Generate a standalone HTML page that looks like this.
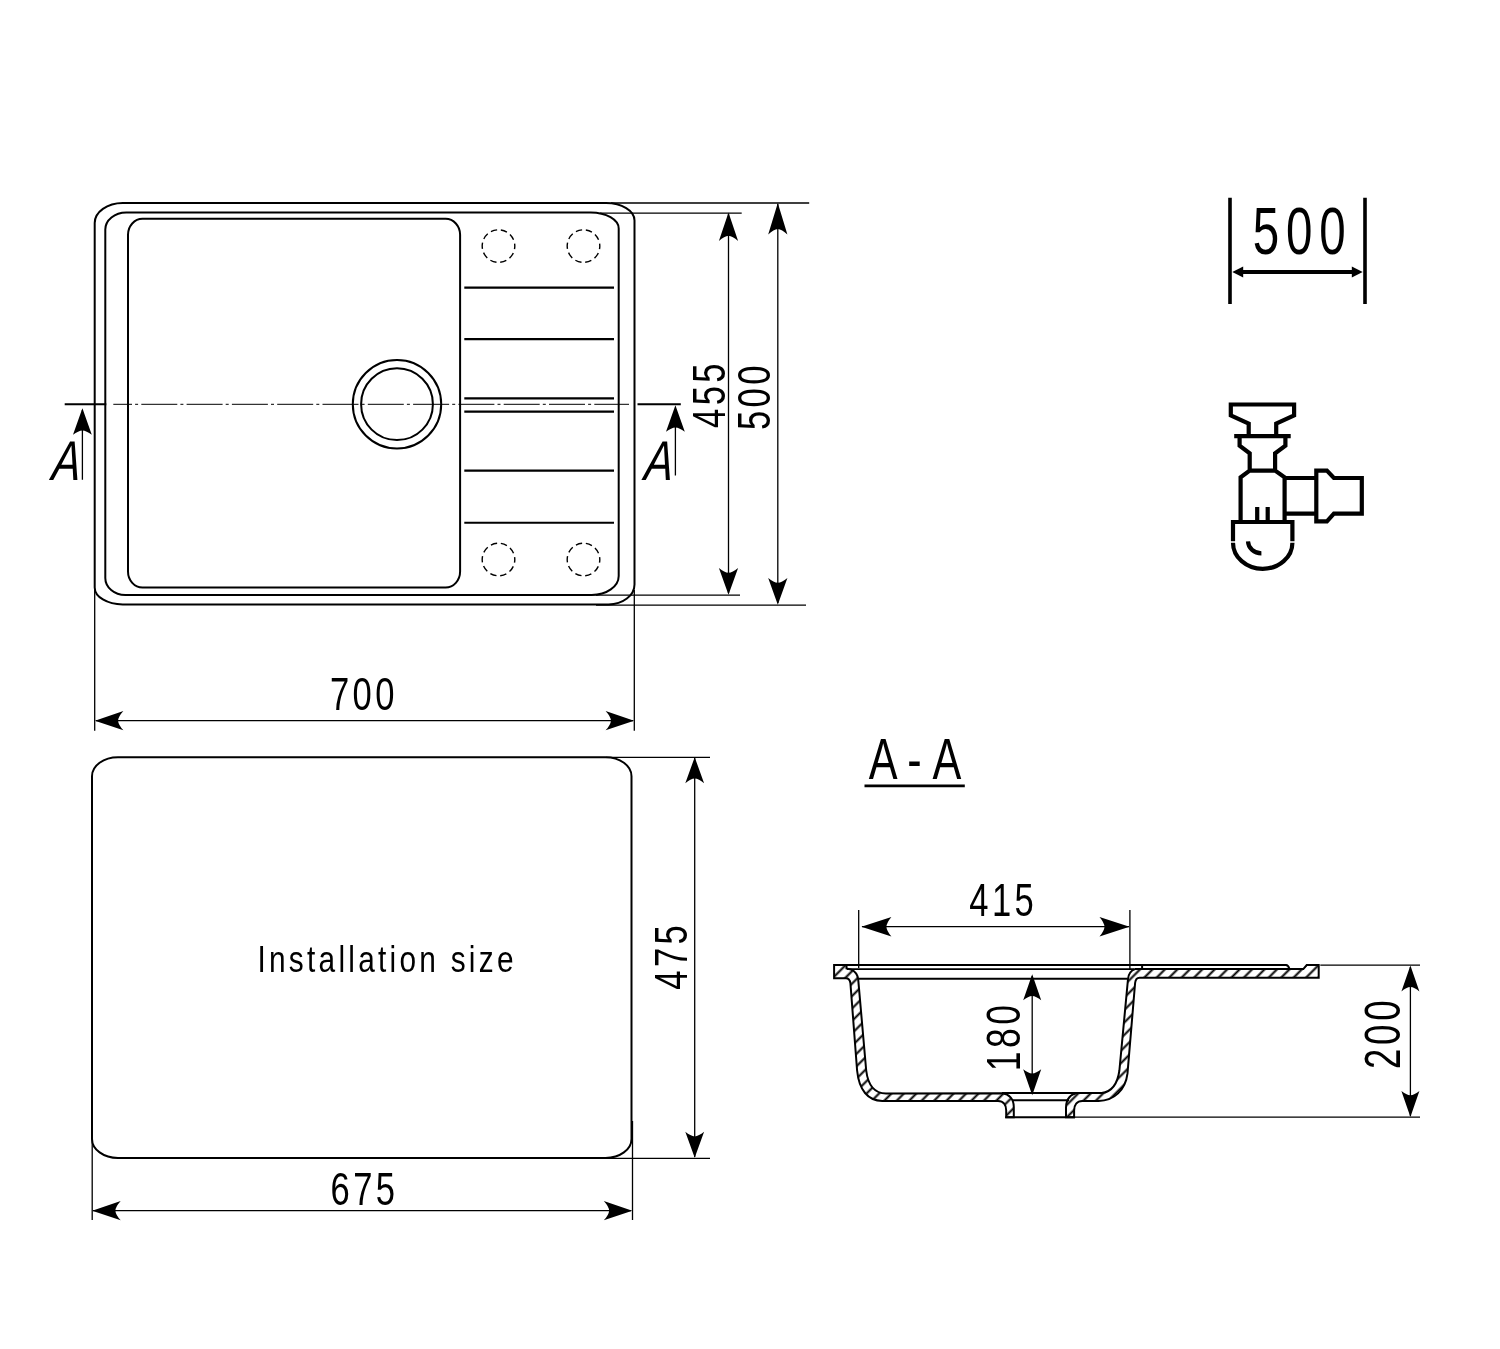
<!DOCTYPE html>
<html lang="en">
<head>
<meta charset="utf-8">
<title>Sink technical drawing</title>
<style>
html,body{margin:0;padding:0;background:#fff;}
body{width:1500px;height:1349px;overflow:hidden;}
svg{display:block;will-change:transform;}
text{font-family:"Liberation Sans",sans-serif;fill:#000;}
.k{stroke:#000;stroke-width:2;fill:none;}
.t{stroke:#000;stroke-width:1.3;fill:none;}
.ah{fill:#000;stroke:none;}
</style>
</head>
<body>
<svg width="1500" height="1349" viewBox="0 0 1500 1349">
<rect x="0" y="0" width="1500" height="1349" fill="#fff"/>

<!-- ===== TOP VIEW ===== -->
<g id="topview">
  <path class="k" d="M122.7 203.0H606.1A28.4 17.4 0 0 1 634.5 220.4V584.4A26.0 20.0 0 0 1 608.5 604.4H122.7A28.0 17.0 0 0 1 94.7 587.4V223.0A28.0 20.0 0 0 1 122.7 203.0Z"/>
  <path class="k" d="M126.3 212.5H590.7A28.0 16.0 0 0 1 618.7 228.5V576.0A27.0 19.0 0 0 1 591.7 595.0H125.3A20.0 17.0 0 0 1 105.3 578.0V229.5A21.0 17.0 0 0 1 126.3 212.5Z"/>
  <rect class="k" x="128" y="218.8" width="332.1" height="368.7" rx="14.5" ry="16"/>
  <circle class="k" cx="397" cy="404.2" r="44.2"/>
  <circle class="k" cx="397" cy="404.2" r="35.9"/>
  <!-- grooves -->
  <path class="k" style="stroke-width:2.1" d="M464.3 287.6H614M464.3 339.1H614M464.3 398.4H614M464.3 411.6H614M464.3 470.6H614M464.3 522.8H614"/>
  <!-- dashed tap holes -->
  <g class="t" style="stroke-width:1.4" stroke-dasharray="6.4 3.84" stroke-dashoffset="3.2">
    <circle cx="498.5" cy="246.1" r="16.3"/>
    <circle cx="583.5" cy="246.1" r="16.3"/>
    <circle cx="498.5" cy="559.5" r="16.3"/>
    <circle cx="583.5" cy="559.5" r="16.3"/>
  </g>
  <!-- centre line -->
  <path class="t" style="stroke-width:1" d="M113.3 404.3H629" stroke-dasharray="36 3.1 3 3.2" stroke-dashoffset="17.3"/>
  <path class="k" style="stroke-width:1.9" d="M64.7 404.3H106.3M637.5 404.3H680.8"/>
</g>

<!-- ===== TOP VIEW DIMENSIONS ===== -->
<g id="topdims">
  <!-- extension lines -->
  <path class="t" d="M611 203H809.2M600 213.2H741.7M596 595.2H740M596 605.2H806"/>
  <path class="t" d="M94.7 590V730.7M634.3 590V730.7"/>
  <!-- 455 -->
  <path class="t" d="M728.5 214V593"/>
  <path class="ah" d="M0 0L9.6 28.5Q4 23.4 0 23.2Q-4 23.4 -9.6 28.5Z" transform="translate(728.5 212.6)"/>
  <path class="ah" d="M0 0L9.6 26.8Q4 22.2 0 22Q-4 22.2 -9.6 26.8Z" transform="translate(728.5 594.8) rotate(180)"/>
  <!-- 500 -->
  <path class="t" d="M777.8 204V603"/>
  <path class="ah" d="M0 0L9.6 31.5Q4 26.2 0 26Q-4 26.2 -9.6 31.5Z" transform="translate(777.8 203)"/>
  <path class="ah" d="M0 0L9.6 26.8Q4 22.2 0 22Q-4 22.2 -9.6 26.8Z" transform="translate(777.8 604.8) rotate(180)"/>
  <!-- 700 -->
  <path class="t" d="M96 720.7H633"/>
  <path class="ah" d="M0 0L9.6 28.5Q4 23.4 0 23.2Q-4 23.4 -9.6 28.5Z" transform="translate(94.9 720.7) rotate(-90)"/>
  <path class="ah" d="M0 0L9.6 28.5Q4 23.4 0 23.2Q-4 23.4 -9.6 28.5Z" transform="translate(634.1 720.7) rotate(90)"/>
  <text font-size="45.5" letter-spacing="4.5" text-anchor="middle" transform="translate(363.9 710) scale(0.76 1)">700</text>
  <text font-size="45.5" letter-spacing="4.5" text-anchor="middle" transform="translate(725 394)  rotate(-90) scale(0.76 1)">455</text>
  <text font-size="45.5" letter-spacing="4.5" text-anchor="middle" transform="translate(769.5 396.1) rotate(-90) scale(0.76 1)">500</text>
  <!-- section markers -->
  <path class="t" d="M82.4 410V479.7M675.4 410V475.6"/>
  <path class="ah" d="M0 0L9.4 26.6Q4 22.4 0 22.2Q-4 22.4 -9.4 26.6Z" transform="translate(82.4 408.2)"/>
  <path class="ah" d="M0 0L9.4 26.6Q4 22.4 0 22.2Q-4 22.4 -9.4 26.6Z" transform="translate(675.4 405.2)"/>
  <text font-size="56" font-style="italic" text-anchor="middle" transform="translate(65.3 480.2) skewX(-5) scale(0.77 1)">A</text>
  <text font-size="56" font-style="italic" text-anchor="middle" transform="translate(658 479.9) skewX(-5) scale(0.77 1)">A</text>
</g>

<!-- ===== INSTALLATION VIEW ===== -->
<g id="install">
  <rect class="k" x="92" y="757.2" width="539.5" height="400.7" rx="26" ry="19"/>
  <path class="t" d="M606 757.3H710M606 1158.3H710M92.2 1130V1220M632.5 1121V1220"/>
  <path class="t" d="M694.7 758V1157"/>
  <path class="ah" d="M0 0L9.4 26Q4 21.6 0 21.4Q-4 21.6 -9.4 26Z" transform="translate(694.7 757.2)"/>
  <path class="ah" d="M0 0L9.4 26Q4 21.6 0 21.4Q-4 21.6 -9.4 26Z" transform="translate(694.7 1157.8) rotate(180)"/>
  <path class="t" d="M93 1210.7H631"/>
  <path class="ah" d="M0 0L9.6 28.5Q4 23.4 0 23.2Q-4 23.4 -9.6 28.5Z" transform="translate(92.2 1210.7) rotate(-90)"/>
  <path class="ah" d="M0 0L9.6 28.5Q4 23.4 0 23.2Q-4 23.4 -9.6 28.5Z" transform="translate(632.3 1210.7) rotate(90)"/>
  <text font-size="45.5" letter-spacing="4.5" text-anchor="middle" transform="translate(364.5 1205.4) scale(0.76 1)">675</text>
  <text font-size="45.5" letter-spacing="4.5" text-anchor="middle" transform="translate(686.7 955.8) rotate(-90) scale(0.76 1)">475</text>
  <text font-size="37.3" text-anchor="middle" transform="translate(387.1 971.7) scale(0.8 1)" letter-spacing="4.07">Installation size</text>
</g>

<!-- ===== CABINET WIDTH 500 + SIPHON ===== -->
<g id="cabinet">
  <path d="M1230 197.7V304M1365 197.7V304" stroke="#000" stroke-width="3.6" fill="none"/>
  <path d="M1240 272H1355" stroke="#000" stroke-width="4" fill="none"/>
  <path class="ah" d="M1232.3 272L1243.2 266.5V277.5Z"/>
  <path class="ah" d="M1362.7 272L1351.8 266.5V277.5Z"/>
  <text font-size="66.5" letter-spacing="9.6" text-anchor="middle" transform="translate(1302.6 253.7) scale(0.715 1)">500</text>
  <g stroke="#000" stroke-width="4.2" fill="none" stroke-linejoin="miter" stroke-linecap="butt">
    <path d="M1248.7 435.8L1248.7 423.5L1230.8 415.4L1230.8 404.5L1294.1 404.5L1294.1 415.4L1276.2 423.5L1276.2 435.8 M1234.2 436.1L1290.7 436.1 M1239.6 437.9L1239.6 445.6L1249.7 453.4L1249.7 470.6 M1285.4 437.9L1285.4 445.6L1275.1 453.4L1275.1 470.6 M1240.6 521.0L1240.6 477.3L1249.7 470.6L1275.1 470.6L1284.6 477.3L1284.6 521.0 M1284.6 478.0L1316.3 478.0 M1284.6 513.7L1316.3 513.7 M1316.3 470.6L1326.9 470.6L1333.9 478.0L1361.8 478.0L1361.8 513.7L1333.9 513.7L1326.9 521.3L1316.3 521.3Z M1257.2 506.9L1257.2 521.0 M1267.7 506.9L1267.7 521.0 M1233.0 541.3L1233.0 522.0L1292.4 522.0L1292.4 541.3"/>
    <path d="M1233.0 542.7 A29.7 26.1 0 0 0 1292.4 542.7"/>
    <path d="M1248.0 541.4 A13.4 12.4 0 0 0 1261.4 553.4"/>
  </g>
</g>

<!-- ===== SECTION A-A ===== -->
<defs>
  <pattern id="hatch" patternUnits="userSpaceOnUse" width="8.8" height="8.8" patternTransform="rotate(-45)">
    <rect x="0" y="0" width="8.8" height="8.8" fill="#fff"/>
    <line x1="0" y1="4.4" x2="8.8" y2="4.4" stroke="#000" stroke-width="2"/>
  </pattern>
</defs>
<g id="section">
  <text font-size="56.5" x="0 50.2 83.3" transform="translate(868.8 778.7) scale(0.765 1)">A-A</text>
  <path d="M864.5 785.9H964.8" stroke="#000" stroke-width="2.6" fill="none"/>
  <!-- 415 -->
  <path class="t" d="M858.7 910V968M1129.9 910V969"/>
  <path class="t" d="M862 926.7H1129"/>
  <path class="ah" d="M0 0L9.8 30Q4 25.2 0 25Q-4 25.2 -9.8 30Z" transform="translate(861.4 926.7) rotate(-90)"/>
  <path class="ah" d="M0 0L9.8 30Q4 25.2 0 25Q-4 25.2 -9.8 30Z" transform="translate(1129.5 926.7) rotate(90)"/>
  <text font-size="45.5" letter-spacing="4.5" text-anchor="middle" transform="translate(1003.3 915.5) scale(0.76 1)">415</text>
  <!-- body: left part -->
  <path class="k" fill="url(#hatch)" style="fill:url(#hatch)" d="M834.1 965.1H846.5V968.4L851.3 969.6C855 971.2 857.6 974.6 858.2 979.3L866.2 1070.5C868 1085 874 1093.4 886 1093.4L1002.5 1093.2C1009 1094 1013.8 1099 1013.8 1107V1117.2H1006.2V1110.5C1006.2 1105 1003.5 1100.9 998 1100.9H882.3C868 1100.9 859 1090 857.1 1070.5L850.4 983C850 980 848.5 978.2 845.9 978.2H834.1Z"/>
  <!-- body: right part -->
  <path class="k" style="fill:url(#hatch)" d="M1066 1117.2V1107.5C1066 1099 1071 1093.5 1078 1093H1101.6C1111 1092 1117.5 1084 1119.4 1070.5L1128 979C1128.5 974 1131 970.5 1135 969.1H1303.3L1306.7 965.1H1318.7V977.8H1139.5C1137 977.8 1135.5 979.5 1135.1 983L1127.5 1073.4C1125.5 1090 1114 1100.9 1098.6 1100.9H1082.3C1077 1101 1074.1 1105 1074.1 1110.5V1117.2Z"/>
  <!-- far edges -->
  <path class="k" d="M846 965.1H1286Q1288.3 965.3 1289.3 968.6"/>
  <path class="k" style="stroke-width:1.8" d="M847 969.1H1134"/>
  <path class="k" d="M858 978.8H1127.7"/>
  <path class="k" d="M1142.1 965V969"/>
  <path class="k" d="M1002 1093H1078"/>
  <path class="k" d="M1012 1100.3H1069"/>
  <path class="k" d="M1005.2 1117.2H1075.1"/>
  <!-- 200 -->
  <path class="t" d="M1075 1117.2H1420M1320.3 965.2H1420"/>
  <path class="t" d="M1410.4 967V1116"/>
  <path class="ah" d="M0 0L9 26Q4 21.9 0 21.7Q-4 21.9 -9 26Z" transform="translate(1410.4 965.4)"/>
  <path class="ah" d="M0 0L9 26Q4 21.9 0 21.7Q-4 21.9 -9 26Z" transform="translate(1410.4 1117) rotate(180)"/>
  <text font-size="49.5" letter-spacing="5" text-anchor="middle" transform="translate(1400.4 1032.9) rotate(-90) scale(0.74 1)">200</text>
  <!-- 180 -->
  <path class="t" d="M1032.2 976V1093"/>
  <path class="ah" d="M0 0L9 26Q4 21.9 0 21.7Q-4 21.9 -9 26Z" transform="translate(1032.2 974.3)"/>
  <path class="ah" d="M0 0L9 26Q4 21.9 0 21.7Q-4 21.9 -9 26Z" transform="translate(1032.2 1095.2) rotate(180)"/>
  <text font-size="48.5" letter-spacing="5" text-anchor="middle" transform="translate(1020 1036.3) rotate(-90) scale(0.73 1)">180</text>
</g>

</svg>
</body>
</html>
